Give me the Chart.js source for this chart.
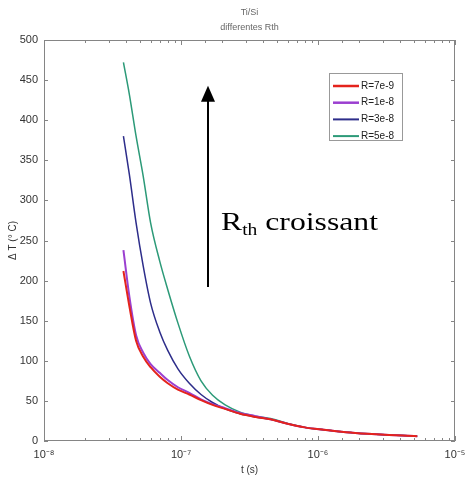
<!DOCTYPE html>
<html>
<head>
<meta charset="utf-8">
<script src="https://cdn.jsdelivr.net/npm/chart.js@4.4.0/dist/chart.umd.min.js"></script>
<style>
  html, body { margin: 0; padding: 0; background: #fff; }
  #wrap { width: 465px; height: 479px; }
</style>
</head>
<body>
<div id="wrap"><canvas id="chart" width="465" height="479"></canvas></div>
<script>
// Ti/Si thermal response for several Rth values.
const times = [3.8e-8, 4.2e-8, 4.7e-8, 5.3e-8, 6e-8, 7e-8, 8e-8, 9.5e-8, 1.15e-7, 1.4e-7,
  1.7e-7, 2.1e-7, 2.7e-7, 3.5e-7, 4.5e-7, 6e-7, 8e-7, 1.1e-6, 1.6e-6, 2.3e-6, 3.3e-6, 4.5e-6, 5.3e-6];

const seriesLabels = ["R=7e-9", "R=1e-8", "R=3e-8", "R=5e-8"];
const dT_R7e9 = [212, 168, 125, 105, 92, 80, 72, 64, 58, 51, 45, 40, 34, 30, 27, 21.5, 17, 14, 11, 9, 7.5, 6.5, 6];
const dT_R1e8 = [238, 180, 132, 110, 96, 85, 76, 67, 60, 52, 46, 41, 35, 31, 27, 21.5, 17, 14, 11, 9, 7.5, 6.5, 6];
const dT_R3e8 = [380, 332, 272, 218, 172, 136, 113, 90, 72, 58, 48, 40, 34, 30, 27, 21.5, 17, 14, 11, 9, 7.5, 6.5, 6];
const dT_R5e8 = [472, 432, 380, 330, 272, 224, 189, 147, 106, 75, 57, 45, 36, 31, 28, 22, 17, 14, 11, 9, 7.5, 6.5, 6];

const decadeLabels = ["10\u207B\u2078", "10\u207B\u2077", "10\u207B\u2076", "10\u207B\u2075"];
const titleLines = ["Ti/Si", "differentes Rth"];

const COLORS = ["#e4231c", "#9b3fd0", "#2d2d8a", "#2c9a78"];
const WIDTHS = [2, 2, 1.5, 1.5];

function series(i, values) {
  return {
    label: seriesLabels[i],
    data: times.map((t, k) => ({ x: t, y: values[k] })),
    borderColor: COLORS[i],
    backgroundColor: COLORS[i],
    borderWidth: WIDTHS[i],
    pointRadius: 0,
    showLine: true,
    cubicInterpolationMode: "monotone",
  };
}

// Matlab-ish box with inward ticks, legend, title and the "Rth croissant" arrow.
const decorPlugin = {
  id: "decor",
  afterDraw(chart) {
    const { ctx, chartArea: a, scales } = chart;
    const x = scales.x, y = scales.y;
    ctx.save();

    // frame
    ctx.strokeStyle = "#858585";
    ctx.lineWidth = 1;
    ctx.strokeRect(a.left + 0.5, a.top + 0.5, a.right - a.left - 1, a.bottom - a.top - 1);

    ctx.beginPath();
    y.ticks.forEach((t) => {
      const p = Math.round(y.getPixelForValue(t.value)) + 0.5;
      ctx.moveTo(a.left, p); ctx.lineTo(a.left + 4, p);
      ctx.moveTo(a.right - 4, p); ctx.lineTo(a.right, p);
    });
    x.ticks.forEach((t) => {
      const e = Math.log10(t.value);
      const len = Math.abs(e - Math.round(e)) < 1e-6 ? 5 : 3;
      const p = Math.round(x.getPixelForValue(t.value)) + 0.5;
      ctx.moveTo(p, a.bottom); ctx.lineTo(p, a.bottom - len);
      ctx.moveTo(p, a.top); ctx.lineTo(p, a.top + len);
    });
    ctx.stroke();

    // title
    ctx.fillStyle = "#666";
    ctx.font = "9px 'Liberation Sans', Arial, sans-serif";
    ctx.textAlign = "center";
    ctx.textBaseline = "middle";
    const cx = (a.left + a.right) / 2;
    ctx.fillText(titleLines[0], cx, 13);
    ctx.fillText(titleLines[1], cx, 28);

    // legend
    const lx = 329, ly = 73, lw = 73, lh = 67;
    ctx.fillStyle = "#fff";
    ctx.fillRect(lx, ly, lw, lh);
    ctx.strokeStyle = "#999";
    ctx.strokeRect(lx + 0.5, ly + 0.5, lw, lh);
    ctx.textAlign = "left";
    ctx.font = "10px 'Liberation Sans', Arial, sans-serif";
    chart.data.datasets.forEach((ds, i) => {
      const yy = ly + 13 + i * 16.7;
      ctx.strokeStyle = ds.borderColor;
      ctx.lineWidth = ds.borderWidth + 0.5;
      ctx.beginPath();
      ctx.moveTo(lx + 4, yy); ctx.lineTo(lx + 30, yy);
      ctx.stroke();
      ctx.fillStyle = "#222";
      ctx.fillText(ds.label, lx + 32, yy);
    });

    // arrow annotation
    const ax = Math.round(x.getPixelForValue(1.57e-7));
    const y0 = y.getPixelForValue(192), y1 = y.getPixelForValue(443);
    ctx.strokeStyle = "#000";
    ctx.fillStyle = "#000";
    ctx.lineWidth = 2;
    ctx.beginPath();
    ctx.moveTo(ax, y0); ctx.lineTo(ax, y1 + 14);
    ctx.stroke();
    ctx.beginPath();
    ctx.moveTo(ax, y1); ctx.lineTo(ax - 7, y1 + 16); ctx.lineTo(ax + 7, y1 + 16);
    ctx.closePath();
    ctx.fill();

    ctx.textBaseline = "alphabetic";
    ctx.translate(ax + 13, y.getPixelForValue(263));
    ctx.scale(1.22, 1);
    ctx.font = "26px 'Liberation Serif', 'Times New Roman', serif";
    ctx.fillText("R", 0, 0);
    let w = ctx.measureText("R").width;
    ctx.font = "16px 'Liberation Serif', 'Times New Roman', serif";
    ctx.fillText("th", w, 5);
    w += ctx.measureText("th").width;
    ctx.font = "26px 'Liberation Serif', 'Times New Roman', serif";
    ctx.fillText(" croissant", w, 0);

    ctx.restore();
  },
};

const tickFont = { family: "'Liberation Sans', Arial, sans-serif", size: 11 };

new Chart(document.getElementById("chart"), {
  type: "scatter",
  data: {
    datasets: [series(0, dT_R7e9), series(1, dT_R1e8), series(2, dT_R3e8), series(3, dT_R5e8)],
  },
  options: {
    responsive: false,
    animation: false,
    devicePixelRatio: 1,
    layout: { padding: { top: 40, right: 10, left: 0, bottom: 0 } },
    plugins: { legend: { display: false }, title: { display: false }, tooltip: { enabled: false } },
    scales: {
      x: {
        type: "logarithmic",
        min: 1e-8,
        max: 1e-5,
        grid: { display: false, drawTicks: false },
        border: { display: false },
        afterFit: (s) => { s.height = 38; s.paddingLeft = 0; s.paddingRight = 0; },
        ticks: {
          autoSkip: false,
          maxRotation: 0,
          padding: 7,
          color: "#333",
          font: tickFont,
          callback: (v) => {
            const e = Math.log10(v);
            return Math.abs(e - Math.round(e)) < 1e-6 ? decadeLabels[Math.round(e) + 8] : "";
          },
        },
        title: {
          display: true,
          text: "t (s)",
          color: "#333",
          font: { family: "'Liberation Sans', Arial, sans-serif", size: 10 },
          padding: { top: 0, bottom: 3 },
        },
      },
      y: {
        min: 0,
        max: 500,
        grid: { display: false, drawTicks: false },
        border: { display: false },
        afterFit: (s) => { s.width = 44; s.paddingTop = 0; s.paddingBottom = 0; },
        ticks: {
          stepSize: 50,
          padding: 6,
          color: "#333",
          font: tickFont,
        },
        title: {
          display: true,
          text: "\u0394 T (\u00B0 C)",
          color: "#333",
          font: { family: "'Liberation Sans', Arial, sans-serif", size: 10 },
          padding: { top: 7, bottom: 0 },
        },
      },
    },
  },
  plugins: [decorPlugin],
});
</script>
</body>
</html>
